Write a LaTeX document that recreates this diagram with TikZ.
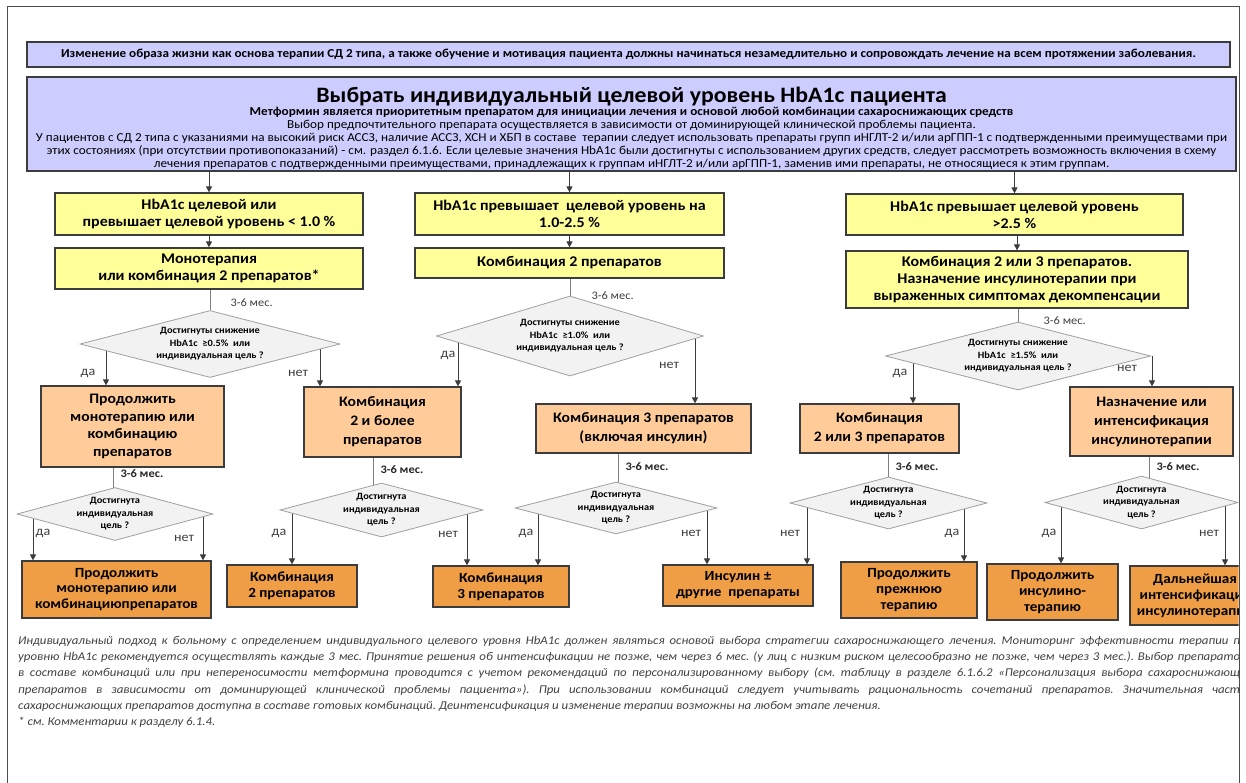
\documentclass[tikz,border=0pt]{standalone}
\usepackage{fontspec}
\setmainfont{Carlito}[FakeStretch=1.08]
\usetikzlibrary{shapes.geometric,arrows.meta,backgrounds}
\definecolor{lav}{RGB}{204,204,255}
\definecolor{yel}{RGB}{255,255,153}
\definecolor{lor}{RGB}{255,204,153}
\definecolor{dor}{RGB}{240,158,70}
\definecolor{dgr}{RGB}{242,242,242}
\definecolor{edge}{RGB}{60,60,60}
\definecolor{txtg}{RGB}{64,64,64}
\tikzset{
 bx/.style={draw=edge, line width=1.2pt, align=center, inner sep=0pt},
 lavb/.style={bx, fill=lav},
 ybx/.style={bx, fill=yel, font=\bfseries\fontsize{14.8}{17}\selectfont},
 obx/.style={bx, fill=lor, font=\bfseries\fontsize{14.5}{19}\selectfont},
 fbx/.style={bx, fill=dor, font=\bfseries\fontsize{14}{16}\selectfont},
 dia/.style={diamond, draw=gray!75, fill=dgr, line width=0.8pt, align=center,
   font=\bfseries\fontsize{9.6}{12.5}\selectfont, inner xsep=-25pt, inner ysep=-10pt},
 arr/.style={draw=edge, line width=0.9pt, -{Triangle[length=6pt,width=6pt]}},
 ln/.style={draw=gray, line width=0.9pt},
 yn/.style={font=\fontsize{13}{15}\selectfont, text=txtg},
 mes/.style={anchor=west, font=\fontsize{11.5}{13}\selectfont, text=txtg},
 mesb/.style={anchor=west, font=\bfseries\fontsize{11.5}{13}\selectfont, text=black!85},
}
\begin{document}
\begin{tikzpicture}[x=1pt,y=-1pt]
\useasboundingbox (0,0) rectangle (1246,783);
\draw[line width=1pt, black!70] (7,783) -- (7,7) -- (1239,7) -- (1239,783);
\begin{scope}
\clip (7.5,7.5) rectangle (1238.5,783);
\node[lavb, minimum width=1203pt, minimum height=25pt, font=\bfseries\fontsize{12.2}{14}\selectfont] (banner) at (628.5,54.5)
 {Изменение образа жизни как основа терапии СД 2 типа, а также обучение и мотивация пациента должны начинаться незамедлительно и сопровождать лечение на всем протяжении заболевания.};
\node[lavb, minimum width=1209pt, minimum height=94pt, font=\fontsize{12.2}{13.2}\selectfont] (head) at (631.5,124)
 {{\bfseries\fontsize{22}{24}\selectfont\rule{0pt}{24.5pt}Выбрать индивидуальный целевой уровень HbA1c пациента}\\[-0.5pt]
  {\bfseries Метформин является приоритетным препаратом для инициации лечения и основой любой комбинации сахароснижающих средств}\\
  Выбор предпочтительного препарата осуществляется в зависимости от доминирующей клинической проблемы пациента.\\
  У пациентов с СД 2 типа с указаниями на высокий риск АССЗ, наличие АССЗ, ХСН и ХБП в составе~ терапии следует использовать препараты групп иНГЛТ-2 и/или арГПП-1 с подтвержденными преимуществами при\\
  этих состояниях (при отсутствии противопоказаний) - см. раздел 6.1.6. Если целевые значения HbA1c были достигнуты с использованием других средств, следует рассмотреть возможность включения в схему\\
  лечения препаратов с подтвержденными преимуществами, принадлежащих к группам иНГЛТ-2 и/или арГПП-1, заменив ими препараты, не относящиеся к этим группам.};
% level 1
\node[ybx, minimum width=308pt, minimum height=42pt] (y1a) at (209,214) {HbA1c целевой или\\превышает целевой уровень < 1.0 \%};
\node[ybx, minimum width=308pt, minimum height=41pt] (y1b) at (209,268.5) {Монотерапия\\или комбинация 2 препаратов*};
\node[ybx, minimum width=309pt, minimum height=42pt] (y2a) at (569.5,214) {HbA1c превышает~ целевой уровень на\\1.0-2.5 \%};
\node[ybx, minimum width=309pt, minimum height=30pt] (y2b) at (569.5,263) {Комбинация 2 препаратов};
\node[ybx, minimum width=337pt, minimum height=41pt] (y3a) at (1014.5,214.5) {HbA1c превышает целевой уровень\\>2.5 \%};
\node[ybx, minimum width=342pt, minimum height=57pt] (y3b) at (1017,279.5) {Комбинация 2 или 3 препаратов.\\Назначение инсулинотерапии при\\выраженных симптомах декомпенсации};
% diamonds level 1
\node[dia, minimum width=260pt, minimum height=67pt, aspect=3.88] (d1) at (210,344) {Достигнуты снижение\\HbA1c~ ≥0.5\%~ или\\индивидуальная цель ?};
\node[dia, minimum width=267pt, minimum height=80pt, aspect=3.34] (d2) at (570,336) {Достигнуты снижение\\HbA1c~ ≥1.0\%~ или\\индивидуальная цель ?};
\node[dia, minimum width=265pt, minimum height=68pt, aspect=3.9] (d3) at (1018,356) {Достигнуты снижение\\HbA1c~ ≥1.5\%~ или\\индивидуальная цель ?};
% level 2 boxes
\node[obx, minimum width=183pt, minimum height=81pt, font=\bfseries\fontsize{14.5}{17.4}\selectfont] (o1) at (132.5,426.5) {Продолжить\\монотерапию или\\комбинацию\\препаратов};
\node[obx, minimum width=157pt, minimum height=70pt] (o2) at (382.5,422) {Комбинация\\2 и более\\препаратов};
\node[obx, minimum width=215pt, minimum height=49pt] (o3) at (643.5,428.5) {Комбинация 3 препаратов\\(включая инсулин)};
\node[obx, minimum width=159pt, minimum height=49pt] (o4) at (879.5,428.5) {Комбинация\\2 или 3 препаратов};
\node[obx, minimum width=163pt, minimum height=69pt] (o5) at (1151.5,421.5) {Назначение или\\интенсификация\\инсулинотерапии};
% diamonds level 2
\node[dia, minimum width=196pt, minimum height=53pt, aspect=3.7] (e1) at (115,514) {Достигнута\\индивидуальная\\цель ?};
\node[dia, minimum width=203pt, minimum height=54pt, aspect=3.76] (e2) at (381.5,510) {Достигнута\\индивидуальная\\цель ?};
\node[dia, minimum width=202pt, minimum height=52pt, aspect=3.88] (e3) at (616,508) {Достигнута\\индивидуальная\\цель ?};
\node[dia, minimum width=197pt, minimum height=52pt, aspect=3.79] (e4) at (888.5,503) {Достигнута\\индивидуальная\\цель ?};
\node[dia, minimum width=193pt, minimum height=53pt, aspect=3.64] (e5) at (1141.5,502.5) {Достигнута\\индивидуальная\\цель ?};
% final boxes
\node[fbx, minimum width=189pt, minimum height=57pt, font=\bfseries\fontsize{14}{15.5}\selectfont] (f1) at (116.5,589.5) {Продолжить\\монотерапию или\\комбинациюпрепаратов};
\node[fbx, minimum width=130pt, minimum height=42pt] (f2) at (292,586) {Комбинация\\2 препаратов};
\node[fbx, minimum width=136pt, minimum height=41pt] (f3) at (501,586.5) {Комбинация\\3 препаратов};
\node[fbx, minimum width=150pt, minimum height=41pt] (f4) at (738,585.5) {Инсулин ±\\другие~ препараты};
\node[fbx, minimum width=136pt, minimum height=56pt] (f5) at (909,590) {Продолжить\\прежнюю\\терапию};
\node[fbx, minimum width=131pt, minimum height=56pt] (f6) at (1052.5,592) {Продолжить\\инсулино-\\терапию};
\node[fbx, minimum width=130pt, minimum height=59pt] (f7) at (1195,595.5) {Дальнейшая\\интенсификация\\инсулинотерапии};
% labels
\node[mes] (m1) at (227,303) {3-6 мес.};
\node[mes] (m2) at (588,296) {3-6 мес.};
\node[mes] (m3) at (1040,321) {3-6 мес.};
\node[mesb] (m4) at (117,474) {3-6 мес.};
\node[mesb] (m5) at (377,470) {3-6 мес.};
\node[mesb] (m6) at (622,467) {3-6 мес.};
\node[mesb] (m7) at (892,467) {3-6 мес.};
\node[mesb] (m8) at (1153,467) {3-6 мес.};
\node[yn] (a1) at (88,373) {да};
\node[yn] (a2) at (298,373) {нет};
\node[yn] (a3) at (448,355) {да};
\node[yn] (a4) at (669,365) {нет};
\node[yn] (a5) at (900,373) {да};
\node[yn] (a6) at (1127,368) {нет};
\node[yn] (b1) at (43,533) {да};
\node[yn] (b2) at (184,538) {нет};
\node[yn] (b3) at (279,533) {да};
\node[yn] (b4) at (448,534) {нет};
\node[yn] (b5) at (526,533) {да};
\node[yn] (b6) at (691,533) {нет};
\node[yn] (b7) at (790,533) {нет};
\node[yn] (b8) at (952,533) {да};
\node[yn] (b9) at (1049,533) {да};
\node[yn] (b10) at (1209,533) {нет};
% footer
\node[anchor=north west, align=left, inner sep=0pt, text=txtg, font=\frenchspacing\itshape\fontsize{11.9}{16.2}\selectfont] (foot) at (18,636)
 {\makebox[1222pt][s]{Индивидуальный подход к больному с определением индивидуального целевого уровня HbA1c должен являться основой выбора стратегии сахароснижающего лечения. Мониторинг эффективности терапии п}\\
  \makebox[1222pt][s]{уровню HbA1c рекомендуется осуществлять каждые 3 мес. Принятие решения об интенсификации не позже, чем через 6 мес. (у лиц с низким риском целесообразно не позже, чем через 3 мес.). Выбор препарато}\\
  \makebox[1222pt][s]{в составе комбинаций или при непереносимости метформина проводится с учетом рекомендаций по персонализированному выбору (см. таблицу в разделе 6.1.6.2 «Персонализация выбора сахароснижающ}\\
  \makebox[1222pt][s]{препаратов в зависимости от доминирующей клинической проблемы пациента»). При использовании комбинаций следует учитывать рациональность сочетаний препаратов. Значительная част}\\
  сахароснижающих препаратов доступна в составе готовых комбинаций. Деинтенсификация и изменение терапии возможны на любом этапе лечения.\\
  * см. Комментарии к разделу 6.1.4.};
% connectors
\draw[arr] (y1a.north |- head.south) -- (y1a.north);
\draw[arr] (y2a.north |- head.south) -- (y2a.north);
\draw[arr] (y3a.north |- head.south) -- (y3a.north);
\draw[arr] (y1a) -- (y1b);
\draw[arr] (y2a) -- (y2b);
\draw[arr] (y3b.north |- y3a.south) -- (y3b.north);
\draw[ln] (d1.north |- y1b.south) -- (d1.north);
\draw[ln] (d2.north |- y2b.south) -- (d2.north);
\draw[ln] (d3.north |- y3b.south) -- (d3.north);
\begin{scope}[on background layer]
\draw[ln] (113,0 |- o1.south) -- (113,0 |- e1.center);
\draw[ln] (373,0 |- o2.south) -- (373,0 |- e2.center);
\draw[ln] (618,0 |- o3.south) -- (618,0 |- e3.center);
\draw[ln] (888,0 |- o4.south) -- (888,0 |- e4.center);
\draw[ln] (1149,0 |- o5.south) -- (1149,0 |- e5.center);
\draw[arr] (106,0 |- d1.center) -- (106,0 |- o1.north);
\draw[arr] (320,0 |- d1.center) -- (320,0 |- o2.north);
\draw[arr] (458,0 |- d2.center) -- (458,0 |- o2.north);
\draw[arr] (695,0 |- d2.center) -- (695,0 |- o3.north);
\draw[arr] (913,0 |- d3.center) -- (913,0 |- o4.north);
\draw[arr] (1152,0 |- d3.center) -- (1152,0 |- o5.north);
\draw[arr] (33,0 |- e1.center) -- (33,0 |- f1.north);
\draw[arr] (203,0 |- e1.center) -- (203,0 |- f1.north);
\draw[arr] (292,0 |- e2.center) -- (292,0 |- f2.north);
\draw[arr] (467,0 |- e2.center) -- (467,0 |- f3.north);
\draw[arr] (538,0 |- e3.center) -- (538,0 |- f3.north);
\draw[arr] (707,0 |- e3.center) -- (707,0 |- f4.north);
\draw[arr] (807,0 |- e4.center) -- (807,0 |- f4.north);
\draw[arr] (964,0 |- e4.center) -- (964,0 |- f5.north);
\draw[arr] (1061,0 |- e5.center) -- (1061,0 |- f6.north);
\draw[arr] (1225,0 |- e5.center) -- (1225,0 |- f7.north);
\end{scope}
\end{scope}
\end{tikzpicture}
\end{document}
